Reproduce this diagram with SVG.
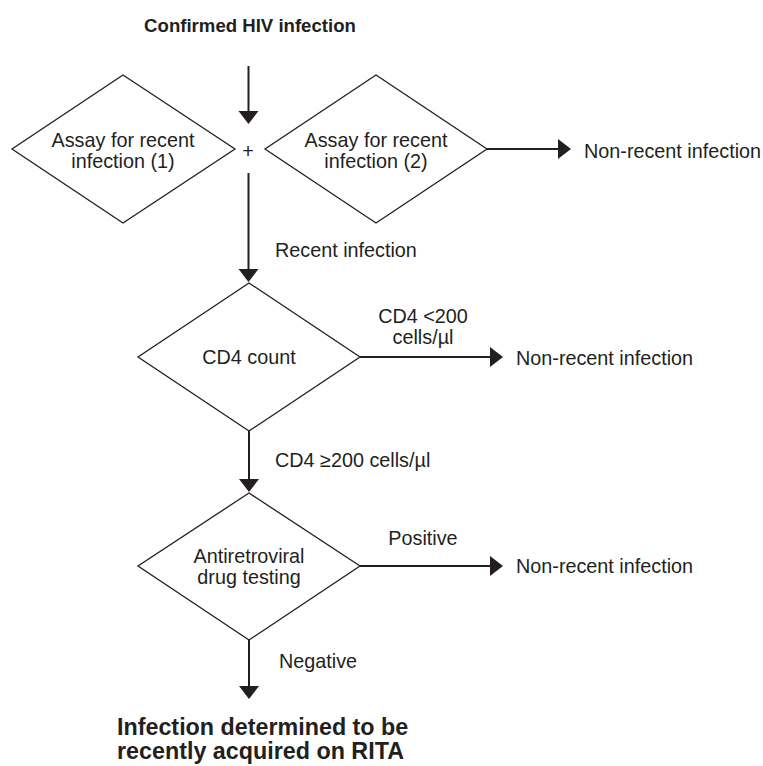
<svg xmlns="http://www.w3.org/2000/svg" width="763" height="766" viewBox="0 0 763 766">
<style>
  .dia { fill: #ffffff; stroke: #231f20; stroke-width: 1.3; }
  .con { stroke: #231f20; stroke-width: 2; fill: none; }
  .t { font-family: "Liberation Sans", Arial, sans-serif; font-size: 19.8px; fill: #231f20; }
  .m { text-anchor: middle; }
  .b { font-weight: bold; }
</style>
<defs>
  <marker id="ah" markerUnits="userSpaceOnUse" markerWidth="14" markerHeight="22" refX="0" refY="10" orient="auto" viewBox="0 0 14 22">
    <path d="M0,0 L13,10 L0,20 Z" fill="#231f20"/>
  </marker>
</defs>
<rect width="763" height="766" fill="#ffffff"/>

<g id="start">
  <text class="t b m" x="250" y="32" style="font-size:18.6px">Confirmed HIV infection</text>
</g>

<g id="assay1">
  <polygon class="dia" points="123,75 235,149 123,223 12,149"/>
  <text class="t m" x="123" y="147">Assay for recent</text>
  <text class="t m" x="123" y="168">infection (1)</text>
</g>

<g id="plus">
  <text class="t m" x="248" y="158">+</text>
</g>

<g id="assay2">
  <polygon class="dia" points="376,75 487,149 376,223 265,149"/>
  <text class="t m" x="376" y="147">Assay for recent</text>
  <text class="t m" x="376" y="168">infection (2)</text>
</g>

<g id="nonrecent1">
  <text class="t" x="584" y="157.5">Non-recent infection</text>
</g>

<g id="cd4">
  <polygon class="dia" points="249,283 360,357 249,431 138,357"/>
  <text class="t m" x="249" y="364">CD4 count</text>
</g>

<g id="nonrecent2">
  <text class="t" x="516" y="365">Non-recent infection</text>
</g>

<g id="art">
  <polygon class="dia" points="249,493 360,566 249,640 138,566"/>
  <text class="t m" x="249" y="563">Antiretroviral</text>
  <text class="t m" x="249" y="584">drug testing</text>
</g>

<g id="nonrecent3">
  <text class="t" x="516" y="573">Non-recent infection</text>
</g>

<g id="result">
  <text class="t b" x="117" y="735" style="font-size:23.3px">Infection determined to be</text>
  <text class="t b" x="117" y="759" style="font-size:23.3px">recently acquired on RITA</text>
</g>

<g id="connectors">
  <line class="con" x1="248.5" y1="66" x2="248.5" y2="111" marker-end="url(#ah)"/>
  <line class="con" x1="487" y1="149" x2="558" y2="149" stroke-width="2.5" marker-end="url(#ah)"/>
  <line class="con" x1="248.5" y1="173" x2="248.5" y2="269" marker-end="url(#ah)"/>
  <line class="con" x1="360" y1="357" x2="490" y2="357" stroke-width="2.5" marker-end="url(#ah)"/>
  <line class="con" x1="249" y1="431" x2="249" y2="479" marker-end="url(#ah)"/>
  <line class="con" x1="360" y1="566" x2="490" y2="566" stroke-width="2.5" marker-end="url(#ah)"/>
  <line class="con" x1="249" y1="640" x2="249" y2="686" marker-end="url(#ah)"/>
  <text class="t" x="275" y="257">Recent infection</text>
  <text class="t m" x="423" y="323">CD4 &lt;200</text>
  <text class="t m" x="423" y="344">cells/µl</text>
  <text class="t" x="275" y="467">CD4 ≥200 cells/µl</text>
  <text class="t m" x="423" y="545">Positive</text>
  <text class="t" x="279" y="668">Negative</text>
</g>
</svg>
